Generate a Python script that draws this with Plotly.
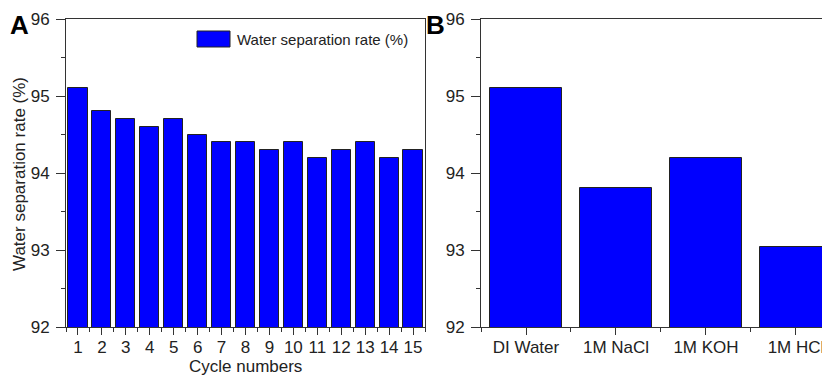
import plotly.graph_objects as go

cycles = list(range(1, 16))
rate_cycles = [95.1, 94.8, 94.7, 94.6, 94.7, 94.5, 94.4, 94.4, 94.3, 94.4, 94.2, 94.3, 94.4, 94.2, 94.3]
media = ["DI Water", "1M NaCl", "1M KOH", "1M HCl"]
rate_media = [95.1, 93.8, 94.2, 93.04]
legend_label = "Water separation rate (%)"
y_title = "Water separation rate (%)"
x_title_a = "Cycle numbers"
y_ticks = [92, 93, 94, 95, 96]

# the page body adds an 8px margin, so the figure is drawn 8px in from the window corner
OFF = 8
W, H = 830 - OFF, 375 - OFF
FONT = "Arial, Liberation Sans, sans-serif"
TXT = "#222222"
LINE = "#333333"

def px(x):
    return (x - OFF) / W

def py(y):
    return 1 - (y - OFF) / H

fig = go.Figure()
fig.add_trace(go.Bar(x=cycles, y=rate_cycles, width=0.8, name=legend_label,
                     marker=dict(color="#0000FF", line=dict(color="#222222", width=1)),
                     xaxis="x", yaxis="y", showlegend=False))
fig.add_trace(go.Bar(x=list(range(len(media))), y=rate_media, width=0.8, name=legend_label,
                     marker=dict(color="#0000FF", line=dict(color="#222222", width=1)),
                     xaxis="x2", yaxis="y2", showlegend=False))

ydom = [py(327), py(19)]
yax_common = dict(range=[92, 96], tickvals=y_ticks, ticks="outside", ticklen=9, tickwidth=1,
                  tickcolor=LINE, showline=True, linecolor=LINE, linewidth=1, showgrid=False,
                  zeroline=False, automargin=False, ticklabelstandoff=3,
                  tickfont=dict(family=FONT, size=17, color=TXT),
                  minor=dict(dtick=0.5, tick0=92.5, ticks="outside", ticklen=4, tickcolor=LINE, showgrid=False))
xtick_common = dict(ticks="outside", ticklen=7, tickcolor=LINE, showline=True, mirror=True,
                    linecolor=LINE, linewidth=1, showgrid=False, zeroline=False, automargin=False,
                    ticklabelstandoff=-2, tickfont=dict(family=FONT, size=17, color=TXT),
                    minor=dict(dtick=1, tick0=0.5, ticks="outside", ticklen=4, tickcolor=LINE, showgrid=False))

fig.update_layout(
    width=W, height=H, margin=dict(l=0, r=0, t=0, b=0),
    paper_bgcolor="white", plot_bgcolor="white", bargap=0,
    xaxis=dict(domain=[px(66), px(425)], range=[0.5, 15.5], tickvals=cycles, anchor="y", **xtick_common),
    yaxis=dict(domain=ydom, anchor="x", mirror=True, **yax_common),
    xaxis2=dict(domain=[px(481), 1], range=[-0.5, 3.378], tickvals=list(range(len(media))),
                ticktext=media, anchor="y2", **xtick_common),
    yaxis2=dict(domain=ydom, anchor="x2", mirror=False, **yax_common),
)

# axis titles
fig.add_annotation(text=x_title_a, xref="paper", yref="paper", x=px(245.5), y=py(366),
                   xanchor="center", yanchor="middle", showarrow=False,
                   font=dict(family=FONT, size=17, color=TXT))
fig.add_annotation(text=y_title, xref="paper", yref="paper", x=px(19), y=py(174), textangle=-90,
                   xanchor="center", yanchor="middle", showarrow=False,
                   font=dict(family=FONT, size=17, color=TXT))

# legend drawn as a box + label
fig.add_shape(type="rect", xref="paper", yref="paper", x0=px(197), x1=px(230), y0=py(47), y1=py(31),
              fillcolor="#0000FF", line=dict(color="#222222", width=1))
fig.add_annotation(text=legend_label, xref="paper", yref="paper", x=px(235), y=py(39),
                   xanchor="left", yanchor="middle", showarrow=False,
                   font=dict(family=FONT, size=15, color=TXT))

fig.add_annotation(text="<b>A</b>", xref="paper", yref="paper", x=px(9), y=py(25),
                   xanchor="left", yanchor="middle", showarrow=False, borderpad=0,
                   font=dict(family=FONT, size=26, color="#000000"))
fig.add_annotation(text="<b>B</b>", xref="paper", yref="paper", x=px(425), y=py(25),
                   xanchor="left", yanchor="middle", showarrow=False, borderpad=0,
                   font=dict(family=FONT, size=26, color="#000000"))

fig.write_html("out.html")
